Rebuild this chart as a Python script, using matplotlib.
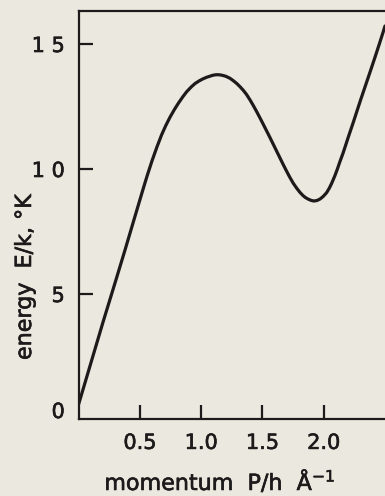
import matplotlib
matplotlib.use("Agg")
import matplotlib.pyplot as plt
import matplotlib.patheffects as pe
import matplotlib.transforms as mtransforms

# Data (momentum in 1/Å, energy in K)
momentum = [0.0, 0.10, 0.20, 0.30, 0.378, 0.459, 0.527, 0.56, 0.60, 0.64,
            0.677, 0.71, 0.745, 0.78, 0.812, 0.85, 0.881, 0.92, 0.95, 0.985,
            1.016, 1.045, 1.07, 1.095, 1.12, 1.145, 1.17, 1.20, 1.234, 1.26,
            1.29, 1.315, 1.343, 1.37, 1.40, 1.425, 1.452, 1.48, 1.50, 1.53,
            1.56, 1.585, 1.61, 1.64, 1.669, 1.695, 1.723, 1.75, 1.778, 1.805,
            1.83, 1.85, 1.875, 1.90, 1.92, 1.945, 1.97, 1.995, 2.023, 2.045,
            2.065, 2.09, 2.11, 2.131, 2.158, 2.18, 2.20, 2.24, 2.30, 2.376,
            2.417, 2.455, 2.485, 2.50]
energy = [0.6, 2.25, 3.9, 5.5, 6.76, 8.1, 9.22, 9.75, 10.35, 10.9,
          11.37, 11.73, 12.07, 12.37, 12.62, 12.89, 13.09, 13.29, 13.42, 13.53,
          13.61, 13.67, 13.71, 13.75, 13.77, 13.77, 13.75, 13.71, 13.63, 13.54,
          13.42, 13.3, 13.15, 12.98, 12.75, 12.54, 12.3, 12.04, 11.85, 11.56,
          11.27, 11.02, 10.77, 10.47, 10.18, 9.93, 9.67, 9.44, 9.24, 9.07,
          8.94, 8.86, 8.79, 8.74, 8.72, 8.74, 8.8, 8.9, 9.05, 9.23,
          9.43, 9.72, 9.98, 10.28, 10.64, 10.97, 11.27, 11.85, 12.75, 13.85,
          14.45, 15.02, 15.48, 15.72]

xticks = [0.5, 1.0, 1.5, 2.0]
xtick_labels = ["0.5", "1.0", "1.5", "2.0"]
yticks = [5, 10, 15]
ytick_labels = ["5", "1 0", "1 5"]
yzero_label = "0"

bg = "#ebe8df"
ink = "#1c1a1a"
thick = [pe.withStroke(linewidth=0.45, foreground=ink)]

fig = plt.figure(figsize=(3.85, 4.96), dpi=100, facecolor=bg)
ax = fig.add_axes([78.7 / 385, 77 / 496, 1 - 78.7 / 385, (419 - 11) / 496])
ax.set_facecolor(bg)

ax.plot(momentum, energy, color=ink, lw=2.3, solid_capstyle="round",
        solid_joinstyle="round")

ax.set_xlim(0, 2.5)
ax.set_ylim(0, 16.32)
ax.spines["right"].set_visible(False)
for s in ["left", "bottom", "top"]:
    ax.spines[s].set_linewidth(1.6)
    ax.spines[s].set_color(ink)

ax.set_xticks(xticks)
ax.set_xticklabels(xtick_labels)
ax.set_yticks(yticks)
ax.set_yticklabels(ytick_labels)
ax.tick_params(axis="both", direction="in", length=10, width=1.6, color=ink,
               labelcolor=ink, labelsize=15)
ax.tick_params(axis="x", pad=10)
ax.tick_params(axis="y", pad=10)
for lab in ax.get_xticklabels() + ax.get_yticklabels():
    lab.set_path_effects(thick)

# the "0" label of the energy axis sits a little above the axis line
zero_tr = mtransforms.blended_transform_factory(ax.transAxes, ax.transData) + \
    mtransforms.ScaledTranslation(-10 / 72, 7 / 100, fig.dpi_scale_trans)
ax.text(0, 0, yzero_label, transform=zero_tr, ha="right", va="center",
        fontsize=15, color=ink, path_effects=thick)

fig.text(220 / 385, 1 - 490 / 496, r"momentum  P/h  Å$^{-1}$", ha="center",
         va="baseline", fontsize=16, color=ink, path_effects=thick)
fig.text(25 / 385, 1 - 277 / 496, "energy  E/k, °K", ha="center", va="center",
         rotation=90, fontsize=16, color=ink, path_effects=thick)

fig.savefig("out.png", dpi=100, facecolor=bg)
